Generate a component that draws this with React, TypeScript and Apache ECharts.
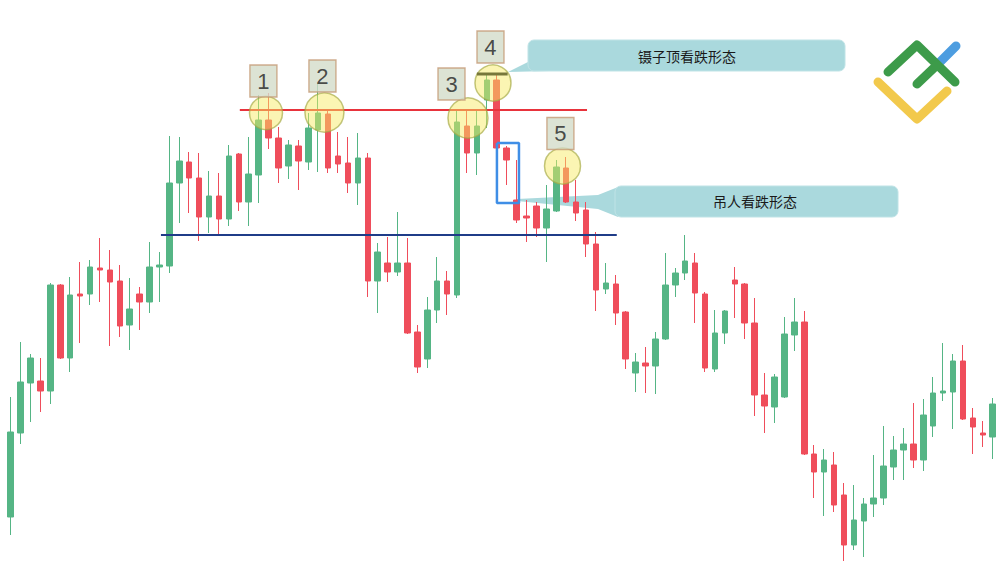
import React, { useEffect, useRef } from "react";
import * as echarts from "echarts";

// Candle values (price units; higher = up), one entry per bar
const opens = [
  59, 143, 193, 195, 185, 291, 218, 282, 282, 308,
  306, 295, 251, 282, 274, 309, 310, 393, 414, 398,
  359, 380, 357, 422, 374, 401, 456, 438, 410, 430,
  414, 446, 462, 420, 413, 393, 418, 295, 313, 304,
  313, 244, 217, 266, 295, 281, 450, 423, 476, 496,
  428, 376, 360, 370, 348, 365, 408, 374, 366, 332,
  287, 292, 264, 203, 213, 210, 237, 291, 303, 313,
  282, 207, 243, 296, 292, 253, 181, 169, 179, 241,
  254, 122, 104, 111, 81, 31, 55, 72, 78, 109,
  126, 132, 116, 150, 183, 184, 215, 158, 143, 139,
];
const closes = [
  144, 194, 218, 185, 291, 218, 281, 280, 309, 306,
  294, 250, 267, 274, 309, 311, 393, 415, 398, 359,
  380, 357, 420, 374, 402, 456, 438, 408, 431, 415,
  448, 463, 408, 412, 393, 418, 295, 324, 304, 313,
  243, 209, 266, 295, 282, 454, 423, 450, 496, 428,
  416, 356, 358, 348, 367, 409, 374, 363, 332, 286,
  293, 263, 217, 214, 210, 237, 291, 303, 315, 283,
  208, 243, 265, 292, 253, 181, 170, 199, 242, 254,
  122, 104, 116, 71, 31, 56, 72, 78, 110, 126,
  132, 116, 161, 183, 185, 215, 157, 149, 141, 172,
];
const lows = [
  41, 132, 154, 164, 172, 217, 204, 233, 271, 274,
  230, 239, 226, 246, 263, 274, 303, 353, 363, 335,
  343, 341, 350, 365, 350, 373, 427, 393, 397, 386,
  406, 404, 403, 403, 383, 371, 279, 263, 294, 300,
  242, 203, 208, 253, 261, 278, 403, 401, 448, 426,
  391, 353, 334, 339, 314, 364, 373, 355, 319, 265,
  282, 251, 207, 184, 183, 182, 236, 279, 296, 253,
  204, 204, 232, 258, 237, 160, 143, 153, 178, 225,
  121, 78, 60, 64, 15, 26, 19, 59, 71, 96,
  96, 108, 105, 139, 175, 147, 156, 122, 129, 117,
];
const highs = [
  179, 234, 222, 218, 293, 292, 299, 314, 316, 338,
  326, 311, 298, 289, 334, 324, 440, 439, 424, 423,
  405, 403, 431, 423, 439, 481, 483, 449, 436, 436,
  463, 493, 466, 444, 439, 443, 423, 333, 339, 364,
  338, 251, 279, 319, 305, 466, 465, 465, 502, 502,
  430, 416, 376, 374, 391, 416, 419, 396, 374, 344,
  313, 301, 265, 223, 229, 244, 323, 308, 341, 323,
  284, 266, 266, 309, 293, 278, 203, 202, 259, 278,
  265, 131, 127, 124, 93, 91, 78, 121, 150, 140,
  148, 173, 177, 199, 233, 222, 231, 168, 155, 178,
];
const categories = opens.map((_, i) => `${i + 1}`);

// Annotations in data coordinates: [bar position, price]
const resistanceLine = [[23.1, 466], [58.1, 466]];
const supportLine = [[15.15, 341], [61.1, 341]];
const tweezerLine = [[47.0, 502], [50.1, 502]];
const highlightCircles = [[25.74, 463], [31.63, 463.5], [46.1, 458], [48.62, 493], [55.63, 410]];
const highlightSizes = [33, 39, 40, 36, 36];
const pointLabels = ["1", "2", "3", "4", "5"];
const pointLabelPos = [[25.48, 495], [31.43, 500], [44.44, 492], [48.37, 529], [55.42, 442.5]];
const hangingBox = [[49.02, 433], [51.24, 433], [51.24, 373], [49.02, 373], [49.02, 433]];
const calloutTexts = ["镊子顶看跌形态", "吊人看跌形态"];

const GREEN = "#55b585";
const RED = "#ef4d5b";
const TEAL = "#aad9dd";

export default function App() {
  const ref = useRef<HTMLDivElement>(null);
  useEffect(() => {
    const chart = echarts.init(ref.current!, null, { renderer: "svg" });
    const option: any = {
      animation: false,
      backgroundColor: "#ffffff",
      grid: { left: 5.7, right: 2.3, top: 0, bottom: 0 },
      xAxis: [
        { type: "category", data: categories, show: false, boundaryGap: true },
        { type: "value", min: -0.5, max: 99.5, show: false },
      ],
      yAxis: { type: "value", min: 0, max: 576, show: false, splitLine: { show: false } },
      graphic: [
        // callout 1
        {
          type: "polygon",
          z: 1,
          shape: { points: [[536, 58], [508, 72], [550, 71]] },
          style: { fill: TEAL },
        },
        {
          type: "rect",
          z: 1,
          shape: { x: 528, y: 40, width: 317, height: 31, r: 6 },
          style: { fill: TEAL, stroke: "#bfe3e6", lineWidth: 1 },
        },
        {
          type: "text",
          z: 2,
          x: 687,
          y: 56,
          style: {
            text: calloutTexts[0],
            fill: "#1a1a1a",
            font: '14px "Noto Sans CJK SC", sans-serif',
            textAlign: "center",
            textVerticalAlign: "middle",
          },
        },
        // callout 2
        {
          type: "polygon",
          z: 1,
          shape: { points: [[517, 199], [598, 195], [618, 187], [618, 217], [598, 209], [517, 201]] },
          style: { fill: TEAL },
        },
        {
          type: "rect",
          z: 1,
          shape: { x: 615, y: 186, width: 283, height: 31, r: 6 },
          style: { fill: TEAL, stroke: "#bfe3e6", lineWidth: 1 },
        },
        {
          type: "text",
          z: 2,
          x: 755,
          y: 201,
          style: {
            text: calloutTexts[1],
            fill: "#1a1a1a",
            font: '14px "Noto Sans CJK SC", sans-serif',
            textAlign: "center",
            textVerticalAlign: "middle",
          },
        },
        // logo
        {
          type: "polyline",
          z: 5,
          shape: { points: [[938, 64], [956, 46]] },
          style: { stroke: "#4d9de0", lineWidth: 9, lineCap: "round", fill: null },
        },
        {
          type: "polyline",
          z: 5,
          shape: { points: [[878, 82], [917, 119], [947, 91]] },
          style: { stroke: "#f2c94c", lineWidth: 9, lineCap: "round", lineJoin: "round", fill: null },
        },
        {
          type: "polyline",
          z: 6,
          shape: { points: [[888, 72], [917, 45], [955, 82]] },
          style: { stroke: "#3d9b4a", lineWidth: 9, lineCap: "round", lineJoin: "round", fill: null },
        },
        {
          type: "polyline",
          z: 6,
          shape: { points: [[917, 84], [937, 65]] },
          style: { stroke: "#3d9b4a", lineWidth: 9, lineCap: "round", fill: null },
        },
      ],
      series: [
        {
          type: "candlestick",
          z: 2,
          barWidth: 6,
          data: opens.map((o, i) => [o, closes[i], lows[i], highs[i]]),
          itemStyle: {
            color: GREEN,
            color0: RED,
            borderColor: GREEN,
            borderColor0: RED,
            borderWidth: 1,
          },
          silent: true,
        },
        {
          type: "line",
          xAxisIndex: 1,
          z: 3,
          data: resistanceLine,
          symbol: "none",
          silent: true,
          lineStyle: { color: "#e8333c", width: 2 },
        },
        {
          type: "line",
          xAxisIndex: 1,
          z: 3,
          data: supportLine,
          symbol: "none",
          silent: true,
          lineStyle: { color: "#1f3c88", width: 2 },
        },
        {
          type: "scatter",
          xAxisIndex: 1,
          z: 4,
          data: highlightCircles,
          symbol: "circle",
          symbolSize: (_v: any, p: any) => highlightSizes[p.dataIndex],
          silent: true,
          itemStyle: {
            color: "rgba(246, 234, 96, 0.6)",
            borderColor: "rgba(165, 170, 70, 0.85)",
            borderWidth: 1.5,
          },
        },
        {
          type: "line",
          xAxisIndex: 1,
          z: 5,
          data: tweezerLine,
          symbol: "none",
          silent: true,
          lineStyle: { color: "#77773a", width: 3 },
        },
        {
          type: "line",
          xAxisIndex: 1,
          z: 5,
          data: hangingBox,
          symbol: "none",
          silent: true,
          lineStyle: { color: "#3f8ee6", width: 2.5 },
        },
        {
          type: "scatter",
          xAxisIndex: 1,
          z: 6,
          data: pointLabelPos.map((p, i) => ({ value: p, name: pointLabels[i] })),
          symbol: "rect",
          symbolSize: [27, 32],
          silent: true,
          itemStyle: { color: "#d3dcc9", borderColor: "#c49a74", borderWidth: 1.5 },
          label: {
            show: true,
            position: "inside",
            formatter: (p: any) => p.name,
            fontSize: 22,
            color: "#222222",
            fontFamily: "Liberation Sans, Arial, sans-serif",
          },
        },
      ],
    };
    chart.setOption(option);
    return () => chart.dispose();
  }, []);
  return (
    <div
      ref={ref}
      style={{ position: "absolute", left: 0, top: 0, width: 1000, height: 576, background: "#fff" }}
    />
  );
}
